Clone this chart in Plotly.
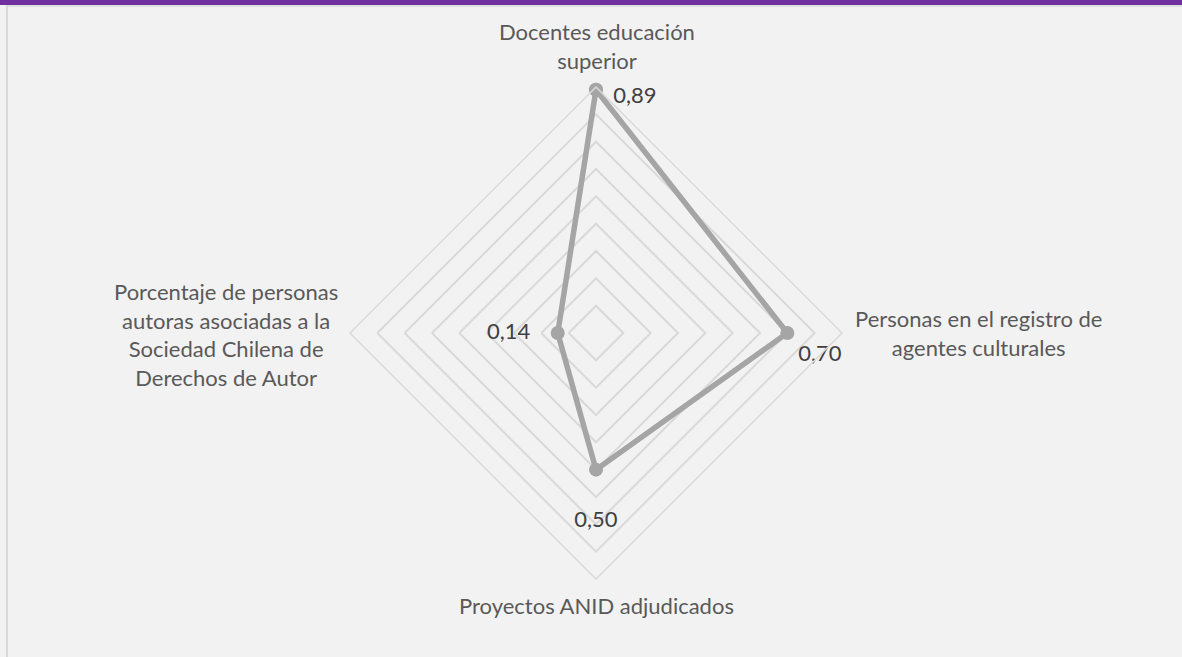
import plotly.graph_objects as go

categories = ["Docentes educación superior",
              "Personas en el registro de agentes culturales",
              "Proyectos ANID adjudicados",
              "Porcentaje de personas autoras asociadas a la Sociedad Chilena de Derechos de Autor"]
values = [0.89, 0.70, 0.50, 0.14]
value_labels = ["0,89", "0,70", "0,50", "0,14"]

# label styling (offset along each axis, in radial units, text placement and spacing)
label_offsets = [-0.03, 0.0, 0.19, 0.065]
label_positions = ["middle right", "bottom right", "middle center", "middle left"]
label_gaps = [26, 16, 14, 14]

W, H = 1182, 657
cx, cy, R = 596, 333, 246

fig = go.Figure()
fig.add_trace(go.Scatterpolar(
    r=values + [values[0]], theta=categories + [categories[0]],
    mode="lines+markers",
    line=dict(color="#a5a5a5", width=5.5),
    marker=dict(color="#a5a5a5", size=14),
    hoverinfo="skip", showlegend=False))
fig.add_trace(go.Scatterpolar(
    r=[v + o for v, o in zip(values, label_offsets)], theta=categories,
    mode="markers+text", text=value_labels, textposition=label_positions,
    marker=dict(size=label_gaps, opacity=0),
    textfont=dict(family="Lato", size=22, color="#404040"),
    hoverinfo="skip", showlegend=False))

fig.update_layout(
    width=W, height=H,
    margin=dict(l=0, r=0, t=0, b=0),
    paper_bgcolor="#f2f2f2",
    font=dict(family="Lato", color="#595959"),
    polar=dict(
        domain=dict(x=[(cx - R) / W, (cx + R) / W], y=[(H - cy - R) / H, (H - cy + R) / H]),
        bgcolor="#f2f2f2",
        gridshape="linear",
        radialaxis=dict(range=[0, 0.9], dtick=0.1, showticklabels=False, ticks="",
                        showline=False, gridcolor="#d9d9d9", gridwidth=1.5),
        angularaxis=dict(rotation=90, direction="clockwise", showgrid=False,
                         showticklabels=False, ticks="", showline=True,
                         linecolor="#d9d9d9", linewidth=1.5),
    ),
    shapes=[
        dict(type="rect", xref="paper", yref="paper", x0=0, x1=1, y0=1 - 5 / H, y1=1,
             fillcolor="#7030a0", line=dict(width=0), layer="above"),
        dict(type="line", xref="paper", yref="paper", x0=7 / W, x1=1, y0=1 - 6 / H, y1=1 - 6 / H,
             line=dict(color="#d9d9d9", width=1.5)),
        dict(type="line", xref="paper", yref="paper", x0=7 / W, x1=7 / W, y0=0, y1=1 - 5 / H,
             line=dict(color="#d9d9d9", width=2)),
    ],
)

lab_font = dict(family="Lato", size=22, color="#595959")
ann = [
    dict(text="Docentes educación<br>superior", x=597 / W, y=1 - 76 / H, xanchor="center", yanchor="bottom"),
    dict(text="Personas en el registro de<br>agentes culturales", x=853 / W, y=1 - 333 / H, xanchor="left", yanchor="middle"),
    dict(text="Proyectos ANID adjudicados", x=596 / W, y=1 - 605 / H, xanchor="center", yanchor="middle"),
    dict(text="Porcentaje de personas<br>autoras asociadas a la<br>Sociedad Chilena de<br>Derechos de Autor",
         x=340 / W, y=1 - 334 / H, xanchor="right", yanchor="middle"),
]
for a in ann:
    fig.add_annotation(xref="paper", yref="paper", showarrow=False, align="center",
                       font=lab_font, **a)

fig.write_html("out.html", config={"displayModeBar": False},
               post_script="document.body.style.margin='0';document.body.style.overflow='hidden';")
